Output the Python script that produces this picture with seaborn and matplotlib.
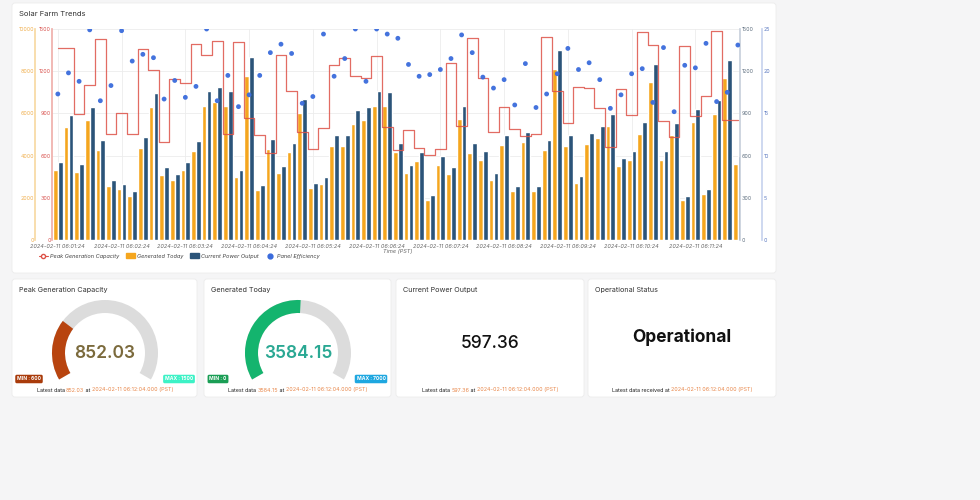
import matplotlib
matplotlib.use("Agg")
import matplotlib.pyplot as plt
import numpy as np
import pandas as pd
import seaborn as sns
from matplotlib.patches import FancyBboxPatch, Wedge, Patch
from matplotlib.lines import Line2D

generated_today = [3333, 5365, 3222, 5698, 4254, 2571, 2397, 2079, 4381, 6285,
                   3095, 2825, 3333, 4238, 6349, 6555, 6364, 2984, 7793, 2349,
                   4301, 3174, 4158, 6031, 2444, 2666, 4460, 4476, 5507, 5698,
                   6349, 6349, 4174, 3190, 3761, 1905, 3571, 3111, 5729, 4142,
                   3809, 2841, 4491, 2317, 4634, 2333, 4285, 8094, 4476, 2714,
                   4539, 4856, 5380, 3507, 3809, 5015, 7507, 3777, 4999, 1873,
                   5587, 2174, 5983, 7681, 3587]
current_power = [557, 890, 538, 948, 710, 429, 400, 348, 733, 1048,
                 517, 469, 555, 705, 1062, 1090, 1062, 498, 1300, 393,
                 717, 529, 690, 1005, 405, 445, 743, 745, 921, 948,
                 1060, 1055, 693, 531, 629, 317, 595, 519, 955, 690,
                 636, 474, 750, 386, 771, 386, 714, 1348, 745, 452,
                 760, 812, 898, 586, 636, 838, 1252, 631, 831, 312,
                 931, 362, 998, 1279, 595]
peak_capacity = [1364, 1364, 893, 1105, 1426, 757, 905, 752, 1357, 1212,
                 700, 1145, 1117, 1395, 1312, 1417, 757, 1405, 869, 743,
                 621, 1312, 1060, 769, 645, 795, 1243, 1293, 1169, 1150,
                 1310, 800, 638, 781, 655, 607, 645, 1260, 810, 1436,
                 1150, 769, 945, 788, 738, 752, 1443, 1060, 829, 1090,
                 1079, 936, 660, 1076, 890, 1479, 1388, 848, 733, 1379,
                 883, 1026, 1483, 850, 850]
panel_efficiency = [17.3, 19.8, 18.8, 24.9, 16.5, 18.3, 24.8, 21.2, 22.0, 21.6,
                    16.7, 18.9, 16.9, 18.2, 25.0, 16.5, 19.5, 15.8, 17.2, 19.5,
                    22.2, 23.2, 22.1, 16.2, 17.0, 24.4, 19.4, 21.5, 25.0, 18.8,
                    25.0, 24.4, 23.9, 20.8, 19.4, 19.6, 20.2, 21.5, 24.3, 22.2,
                    19.3, 18.0, 19.0, 16.0, 20.9, 15.7, 17.3, 19.7, 22.7, 20.2,
                    21.0, 19.0, 15.6, 17.2, 19.7, 20.3, 16.3, 22.8, 15.2, 20.7,
                    20.4, 23.3, 16.4, 17.5, 23.1]
times = pd.date_range("2024-02-11 06:01:24", periods=len(generated_today), freq="10s")

ORANGE = "#f5a61e"
NAVY = "#2b5479"
RED = "#dd5248"
BLUE = "#3a6bdc"

df = pd.DataFrame({
    "idx": np.arange(len(times)),
    "gen": generated_today,
    "cur": current_power,
    "peak": peak_capacity,
    "eff": panel_efficiency,
})

sns.set_theme(style="white")
plt.rcParams["font.family"] = ["Inter", "DejaVu Sans"]

fig = plt.figure(figsize=(9.8, 5.0), dpi=100)
fig.patch.set_facecolor("#f5f5f6")

# overlay in pixel coordinates for cards, gauges and texts
ov = fig.add_axes([0, 0, 1, 1], zorder=0)
ov.set_xlim(0, 980)
ov.set_ylim(500, 0)
ov.axis("off")

for x0, y0, x1, y1 in [(12, 3, 776, 273), (12, 279, 197, 397), (204, 279, 391, 397),
                       (396, 279, 584, 397), (588, 279, 776, 397)]:
    ov.add_patch(FancyBboxPatch((x0, y0), x1 - x0, y1 - y0,
                                boxstyle="round,pad=0,rounding_size=3",
                                fc="white", ec="#ececec", lw=0.6))

ov.text(19, 14, "Solar Farm Trends", fontsize=5.5, color="#333", va="center")

# main chart
rect = [52 / 980, 1 - 240 / 500, (740 - 52) / 980, (240 - 29) / 500]
ax_gen = fig.add_axes(rect, zorder=1)
ax_gen.set_facecolor("none")
ax_cur = ax_gen.twinx()
ax_peak = ax_gen.twinx()
ax_eff = ax_gen.twinx()

xs = df["idx"].to_numpy()
w = 0.44
ax_gen.bar(xs - 0.23, df["gen"], width=w, color=ORANGE)
ax_cur.bar(xs + 0.23, df["cur"], width=w, color=NAVY)
sns.lineplot(data=df, x="idx", y="peak", ax=ax_peak, drawstyle="steps-mid",
             color=RED, lw=0.9, alpha=0.85)
sns.scatterplot(data=df, x="idx", y="eff", ax=ax_eff, color=BLUE, s=12,
                edgecolor="none", alpha=0.95)

ax_gen.set_xlim(-0.55, 64.2)
ax_gen.set_ylim(0, 10000)
ax_cur.set_ylim(0, 1500)
ax_peak.set_ylim(0, 1500)
ax_eff.set_ylim(0, 25)

tick_idx = np.arange(0, len(times), 6)
ax_gen.set_xticks(tick_idx)
ax_gen.set_xticklabels([times[i].strftime("%Y-%m-%d %H:%M:%S") for i in tick_idx],
                       fontsize=4, color="#666", style="italic")
ax_gen.grid(True, color="#ececec", lw=0.6)
ax_gen.set_axisbelow(True)

for a in (ax_gen, ax_cur, ax_peak, ax_eff):
    for s in a.spines.values():
        s.set_visible(False)
    a.set_xlabel("")
    a.set_ylabel("")
    a.tick_params(axis="y", length=0, labelsize=3.8, pad=1)
    a.tick_params(axis="x", length=2, width=0.5, color="#ccc", pad=1)

ax_gen.yaxis.tick_left()
ax_gen.spines["left"].set_visible(True)
ax_gen.spines["left"].set_position(("outward", 12))
ax_gen.spines["left"].set_color("#f7d9a3")
ax_gen.set_yticks([0, 2000, 4000, 6000, 8000, 10000])
ax_gen.tick_params(axis="y", labelcolor="#f0b050")

ax_peak.yaxis.tick_left()
ax_peak.spines["left"].set_visible(True)
ax_peak.spines["left"].set_color("#f0b0ab")
ax_peak.set_yticks([0, 300, 600, 900, 1200, 1500])
ax_peak.tick_params(axis="y", labelcolor="#d9534f")

ax_cur.spines["right"].set_visible(True)
ax_cur.spines["right"].set_color("#c8d0dc")
ax_cur.set_yticks([0, 300, 600, 900, 1200, 1500])
ax_cur.tick_params(axis="y", labelcolor="#607080")

ax_eff.spines["right"].set_visible(True)
ax_eff.spines["right"].set_position(("outward", 16))
ax_eff.spines["right"].set_color("#c8d4ee")
ax_eff.set_yticks([0, 5, 10, 15, 20, 25])
ax_eff.tick_params(axis="y", labelcolor="#5a78c0")

ov.text(398, 251, "Time (PST)", fontsize=4, color="#666", style="italic", ha="center", va="center")

handles = [Line2D([], [], color=RED, lw=0.8, marker="o", mfc="white", mec=RED, ms=3),
           Patch(color=ORANGE), Patch(color=NAVY),
           Line2D([], [], ls="none", marker="o", color=BLUE, ms=3.5)]
labels = ["Peak Generation Capacity", "Generated Today", "Current Power Output", "Panel Efficiency"]
leg = fig.legend(handles, labels, loc="center left", bbox_to_anchor=(34 / 980, 1 - 256 / 500),
                 ncol=4, frameon=False, handlelength=1.6, handleheight=0.8,
                 columnspacing=1.2, handletextpad=0.4, prop={"size": 4, "style": "italic"})
for t in leg.get_texts():
    t.set_color("#444")

# bottom cards
renderer = fig.canvas.get_renderer()


def rich_line(xc, y, parts, size=3.9):
    texts = []
    for s, c in parts:
        texts.append(ov.text(0, y, s, fontsize=size, color=c, va="center"))
    widths = [t.get_window_extent(renderer).width for t in texts]
    x = xc - sum(widths) / 2
    for t, wd in zip(texts, widths):
        t.set_x(x)
        x += wd


def badge(x, y, s, color, fg="white"):
    ov.text(x, y, s, fontsize=3.6, color=fg, ha="center", va="center", weight="bold",
            bbox=dict(boxstyle="round,pad=0.35,rounding_size=0.3", fc=color, ec="none"))


def gauge(cx, cy, frac, color):
    r = 53
    a0, span = 210, 240
    ov.add_patch(Wedge((cx, cy), r, -a0, -(a0 - span), width=13, fc="#dcdcdc", ec="none"))
    ov.add_patch(Wedge((cx, cy), r, -a0, -(a0 - span * frac), width=13, fc=color, ec="none"))


ORG = "#e8874a"
cards = [
    ("Peak Generation Capacity", 19, 105),
    ("Generated Today", 211, 298),
    ("Current Power Output", 403, 490),
    ("Operational Status", 595, 682),
]
for title, tx, cx in cards:
    ov.text(tx, 290, title, fontsize=5.2, color="#333", va="center")

gauge(105, 353, (852.03 - 600) / (1500 - 600), "#b8440f")
ov.text(105, 353, "852.03", fontsize=12.5, color="#7b6a3c", ha="center", va="center", weight="semibold")
badge(29, 379, "MIN : 600", "#a93b0b")
badge(179, 379, "MAX : 1500", "#3df2c6")
rich_line(105, 390, [("Latest data ", "#222"), ("852.03", ORG), (" at ", "#222"),
                     ("2024-02-11 06:12:04.000 (PST)", ORG)])

gauge(298, 353, 3584.15 / 7000, "#14b46e")
ov.text(298, 353, "3584.15", fontsize=12.5, color="#2aa893", ha="center", va="center", weight="semibold")
badge(218, 379, "MIN : 0", "#1a9e55")
badge(371, 379, "MAX : 7000", "#1ea7e0")
rich_line(298, 390, [("Latest data ", "#222"), ("3584.15", ORG), (" at ", "#222"),
                     ("2024-02-11 06:12:04.000 (PST)", ORG)])

ov.text(490, 343, "597.36", fontsize=12.5, color="#111", ha="center", va="center", weight="medium")
rich_line(490, 390, [("Latest data ", "#222"), ("597.36", ORG), (" at ", "#222"),
                     ("2024-02-11 06:12:04.000 (PST)", ORG)])

ov.text(682, 337, "Operational", fontsize=12.5, color="#111", ha="center", va="center", weight="bold")
rich_line(682, 390, [("Latest data received at ", "#222"),
                     ("2024-02-11 06:12:04.000 (PST)", ORG)])

fig.savefig("out.png", dpi=100, facecolor=fig.get_facecolor())
